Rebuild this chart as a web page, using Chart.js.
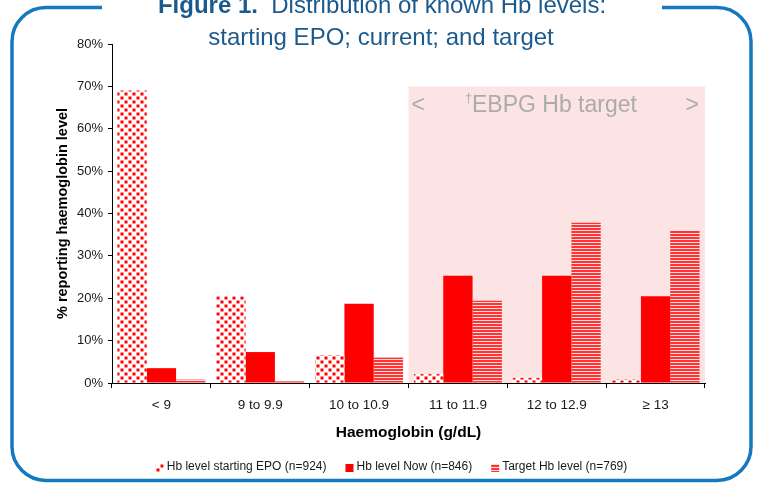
<!DOCTYPE html>
<html>
<head>
<meta charset="utf-8">
<script src="https://cdn.jsdelivr.net/npm/chart.js@4.4.1/dist/chart.umd.min.js"></script>
<style>
  html, body { margin: 0; padding: 0; background: #fff; }
  #wrap { width: 757px; height: 485px; }
</style>
</head>
<body>
<div id="wrap"><canvas id="hbChart" width="757" height="485"></canvas></div>
<script>
// chart data
const categories = ['< 9', '9 to 9.9', '10 to 10.9', '11 to 11.9', '12 to 12.9', '\u2265 13'];
const startEPO = [69.0, 20.5, 6.6, 2.1, 1.2, 0.9];
const nowHb = [3.5, 7.3, 18.7, 25.3, 25.3, 20.5];
const targetHb = [0.8, 0.4, 6.0, 19.4, 37.8, 36.0];
const seriesLabels = ['Hb level starting EPO (n=924)', 'Hb level Now (n=846)', 'Target Hb level (n=769)'];
const titleLines = ['Figure 1.', '  Distribution of known Hb levels:', 'starting EPO; current; and target'];
const targetLabel = 'EBPG Hb target';
const targetFrom = 2.5; // boundary before 11 to 11.9
const targetTop = 70;

const FONT = "'Liberation Sans', Arial, sans-serif";
const ctx = document.getElementById('hbChart').getContext('2d');

// fill patterns
function dotPattern() {
    const c = document.createElement('canvas');
    c.width = 8; c.height = 8;
    const g = c.getContext('2d');
    g.fillStyle = '#ffffff';
    g.fillRect(0, 0, 8, 8);
    g.fillStyle = '#ff0000';
    g.fillRect(0.5, 0.5, 3, 3);
    g.fillRect(4.5, 4.5, 3, 3);
    return ctx.createPattern(c, 'repeat');
}
function stripePattern() {
    const c = document.createElement('canvas');
    c.width = 4; c.height = 3;
    const g = c.getContext('2d');
    g.fillStyle = '#ff3434';
    g.fillRect(0, 0, 4, 2);
    g.fillStyle = '#ffdcdc';
    g.fillRect(0, 2, 4, 1);
    return ctx.createPattern(c, 'repeat');
}
const fills = [dotPattern(), '#ff0000', stripePattern()];

// frame, title, shaded target zone, legend
const decor = {
    id: 'decor',
    beforeDraw(chart) {
        const c = chart.ctx;
        const x = chart.scales.x, y = chart.scales.y;
        c.save();
        c.fillStyle = '#ffffff';
        c.fillRect(0, 0, chart.width, chart.height);
        const left = x.getPixelForValue(targetFrom);
        const top = y.getPixelForValue(targetTop);
        c.fillStyle = '#fde4e4';
        c.fillRect(left, top, chart.chartArea.right - left, y.bottom - top);
        c.fillStyle = '#ababab';
        c.textBaseline = 'alphabetic';
        c.font = '23px ' + FONT;
        c.textAlign = 'left';
        c.fillText('<', left + 3, top + 26);
        c.textAlign = 'right';
        c.fillText('>', chart.chartArea.right - 6, top + 26);
        c.textAlign = 'left';
        c.fillText(targetLabel, 472, top + 26);
        c.font = '13px ' + FONT;
        c.fillText('\u2020', 465, top + 16);
        c.restore();
    },
    afterDraw(chart) {
        const c = chart.ctx;
        c.save();
        // rounded frame with gap for the title
        const L = 12, R = 751, T = 7.5, B = 480.5, r = 34;
        c.strokeStyle = '#1479bf';
        c.lineWidth = 3.5;
        c.beginPath();
        c.moveTo(102, T);
        c.lineTo(L + r, T);
        c.arcTo(L, T, L, T + r, r);
        c.lineTo(L, B - r);
        c.arcTo(L, B, L + r, B, r);
        c.lineTo(R - r, B);
        c.arcTo(R, B, R, B - r, r);
        c.lineTo(R, T + r);
        c.arcTo(R, T, R - r, T, r);
        c.lineTo(662, T);
        c.stroke();

        // title
        c.fillStyle = '#1c5a8c';
        c.textBaseline = 'alphabetic';
        c.font = 'bold 24px ' + FONT;
        const w1 = c.measureText(titleLines[0]).width;
        c.font = '24px ' + FONT;
        const w2 = c.measureText(titleLines[1]).width;
        let tx = 382 - (w1 + w2) / 2;
        c.textAlign = 'left';
        c.font = 'bold 24px ' + FONT;
        c.fillText(titleLines[0], tx, 13);
        c.font = '24px ' + FONT;
        c.fillText(titleLines[1], tx + w1, 13);
        c.textAlign = 'center';
        c.fillText(titleLines[2], 381, 45);

        // legend
        c.font = '12px ' + FONT;
        c.textAlign = 'left';
        c.textBaseline = 'middle';
        const gap = 19, box = 8, boxGap = 3;
        const widths = seriesLabels.map(s => c.measureText(s).width);
        const total = widths.reduce((a, b) => a + b, 0) + seriesLabels.length * (box + boxGap) + gap * (seriesLabels.length - 1);
        let lx = 391.5 - total / 2;
        const ly = 467;
        seriesLabels.forEach((s, i) => {
            c.fillStyle = fills[i];
            c.fillRect(lx, ly - box / 2 + 1, box, box);
            c.fillStyle = '#1a1a1a';
            c.fillText(s, lx + box + boxGap, ly);
            lx += box + boxGap + widths[i] + gap;
        });
        c.restore();
    }
};

const chart = new Chart(ctx, {
    type: 'bar',
    data: {
        labels: categories,
        datasets: [
            { label: seriesLabels[0], data: startEPO, backgroundColor: fills[0] },
            { label: seriesLabels[1], data: nowHb, backgroundColor: fills[1] },
            { label: seriesLabels[2], data: targetHb, backgroundColor: fills[2] }
        ]
    },
    options: {
        responsive: false,
        animation: false,
        layout: { padding: { left: 0, right: 52, top: 44, bottom: 0 } },
        datasets: { bar: { categoryPercentage: 0.89, barPercentage: 1, borderWidth: 0 } },
        plugins: { legend: { display: false }, tooltip: { enabled: false } },
        scales: {
            x: {
                grid: { display: true, drawOnChartArea: false, drawTicks: true, tickLength: 5, color: '#000', offset: true },
                border: { display: true, color: '#000', width: 1 },
                ticks: { color: '#1a1a1a', font: { family: FONT, size: 13.5 }, padding: 9, maxRotation: 0 },
                title: { display: true, text: 'Haemoglobin (g/dL)', color: '#000', font: { family: FONT, size: 15.5, weight: 'bold' }, padding: { top: 0, bottom: 43 } },
                afterFit: s => { s.height = 102; }
            },
            y: {
                min: 0, max: 80,
                grid: { display: true, drawOnChartArea: false, drawTicks: true, tickLength: 4, color: '#000' },
                border: { display: true, color: '#000', width: 1 },
                ticks: { stepSize: 10, color: '#1a1a1a', font: { family: FONT, size: 13 }, padding: 5, callback: v => v + '%' },
                title: { display: true, text: '% reporting haemoglobin level', color: '#000', font: { family: FONT, size: 14.5, weight: 'bold' }, padding: { top: 54, bottom: 0 } },
                afterFit: s => { s.width = 112; }
            }
        }
    },
    plugins: [decor]
});
</script>
</body>
</html>
